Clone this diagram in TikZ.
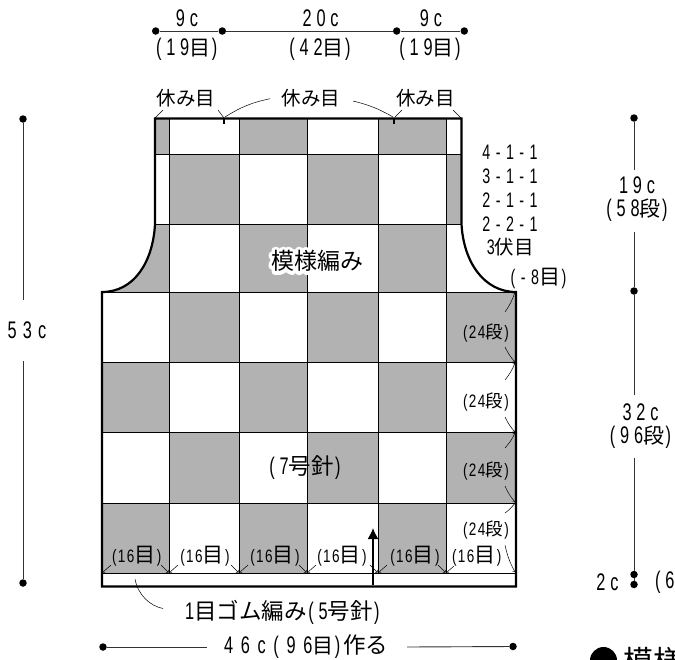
\documentclass[tikz,border=0pt]{standalone}
\usepackage{fontspec}
\usetikzlibrary{arrows.meta}
\newfontfamily\jpfont{Noto Sans CJK JP}
\newfontfamily\numfont[FakeStretch=0.68,LetterSpace=20]{Liberation Sans}
\newfontfamily\widefont[FakeStretch=0.68,LetterSpace=26]{Liberation Sans}
\newfontfamily\widerfont[FakeStretch=0.68,LetterSpace=32]{Liberation Sans}
\newfontfamily\smallfont[FakeStretch=0.75,LetterSpace=8]{Liberation Sans}
\newfontfamily\halofont[FakeBold=30,Color=FFFFFF]{Noto Sans CJK JP}
\newcommand\jp[1]{{\jpfont\fontsize{21}{21}\selectfont #1}\kern1.5pt}
\newcommand\jpb[1]{{\jpfont\fontsize{22.5}{23}\selectfont #1}\kern1.5pt}
\newcommand\jps[1]{{\jpfont\fontsize{17.5}{18}\selectfont #1}\kern1.5pt}
\newcommand\jpm[1]{{\jpfont\fontsize{19.5}{20}\selectfont #1}\kern1.5pt}
\definecolor{knitgray}{gray}{0.7}
\tikzset{
  lab/.style={inner sep=0pt,font=\fontsize{24}{23}\selectfont\numfont,align=center},
  widelab/.style={inner sep=0pt,font=\fontsize{24}{26}\selectfont\widefont},
  declab/.style={inner sep=0pt,font=\fontsize{21}{23}\selectfont\widefont},
  jplab/.style={inner sep=0pt,font=\fontsize{19.5}{21}\selectfont\jpfont},
  small/.style={inner sep=0pt,font=\fontsize{18}{19}\selectfont\smallfont},
  dimdot/.style={circle,fill=black,inner sep=0pt,minimum size=7.5pt},
  dimline/.style={line width=0.9pt,black!80},
  leader/.style={line width=0.5pt},
  tipline/.style={line width=0.5pt,->,>=to},
  cell/.style={fill=knitgray,draw=none}
}
\begin{document}
\begin{tikzpicture}[x=1pt,y=-1pt]
\useasboundingbox (0,0) rectangle (675,659);
\clip (0,0) rectangle (675,659);
% shaded squares
\fill[cell] (155,119) rectangle (169,154);
\fill[cell] (239,119) rectangle (307,154);
\fill[cell] (378,119) rectangle (446,154);
\fill[cell] (169,154) rectangle (239,224);
\fill[cell] (307,154) rectangle (378,224);
\fill[cell] (446,154) rectangle (461.5,224);
\fill[cell] (155,224) .. controls (153,262) and (134,292) .. (102,292) -- (169,292) -- (169,224) -- cycle;
\fill[cell] (239,224) rectangle (307,292);
\fill[cell] (378,224) rectangle (446,292);
\fill[cell] (169,292) rectangle (239,362);
\fill[cell] (307,292) rectangle (378,362);
\fill[cell] (446,292) rectangle (516,362);
\fill[cell] (102,362) rectangle (169,432);
\fill[cell] (239,362) rectangle (307,432);
\fill[cell] (378,362) rectangle (446,432);
\fill[cell] (169,432) rectangle (239,503);
\fill[cell] (307,432) rectangle (378,503);
\fill[cell] (446,432) rectangle (516,503);
\fill[cell] (102,503) rectangle (169,573);
\fill[cell] (239,503) rectangle (307,573);
\fill[cell] (378,503) rectangle (446,573);
% grid
\draw[line width=1pt] (155,154) -- (461.5,154);
\draw[line width=1pt] (155,224) -- (461.5,224);
\foreach \yy in {292,362,432,503,573} \draw[line width=1pt] (102,\yy) -- (516,\yy);
\foreach \xx in {169,239,307,378,446} \draw[line width=1pt] (\xx,119) -- (\xx,573);
% outline
\draw[line width=2.2pt] (155,118.5) -- (461.5,118.5) -- (461.5,224)
  .. controls (463.5,262) and (484,292) .. (516,292) -- (516,586.5) -- (102,586.5) -- (102,292)
  .. controls (134,292) and (153,262) .. (155,224) -- cycle;
\draw[line width=1.8pt] (224,118) -- (224,124);
\draw[line width=1.8pt] (394,118) -- (394,124);
% top
\node[dimdot] (ta) at (155.7,31) {};
\node[dimdot] (tb) at (222.3,31) {};
\node[dimdot] (tc) at (396.7,31) {};
\node[dimdot] (td) at (464.3,31) {};
\draw[dimline] (ta) -- (tb) -- (tc) -- (td);
\node[lab] (wa) at (187,18) {9c};
\node[lab] (wb) at (320.7,18) {20c};
\node[lab] (wc) at (431,18) {9c};
\node[lab] (sa) at (186.7,49) {(19\jp{目})};
\node[lab] (sb) at (320,49) {(42\jp{目})};
\node[lab] (sc) at (430,49) {(19\jp{目})};
% rest
\node[jplab] (ra) at (186,98) {休み目};
\node[jplab] (rb) at (311,98) {休み目};
\node[jplab] (rc) at (425.5,98) {休み目};
\coordinate (rl) at (270,98.7);
\coordinate (rr) at (353,101);
\draw[leader] (155,118) -- (163,110);
\draw[leader] (218,110) -- (224,118);
\draw[leader] (225,117) to[bend left=10] (rl);
\draw[leader] (rr) to[bend left=8] (393,117);
\draw[leader] (395,117) -- (402,110);
\draw[leader] (453,110) -- (461,118);
% left
\node[dimdot] (la) at (23,119) {};
\node[dimdot] (lb) at (23,583) {};
\node[widelab] (lt) at (27,330) {53c};
\draw[dimline] (la) -- (23,300);
\draw[dimline] (23,361) -- (lb);
% right
\node[dimdot] (ua) at (634,118) {};
\node[dimdot] (ub) at (634,291) {};
\node[dimdot] (uc) at (634,574.5) {};
\node[dimdot] (ud) at (634,584.5) {};
\node[lab] (ue) at (637,199.5) {19c\\(58\jp{段})};
\node[lab] (ug) at (640.5,426.5) {32c\\(96\jp{段})};
\draw[dimline] (ua) -- (634,170);
\draw[dimline] (634,232) -- (ub) -- (634,395);
\draw[dimline] (634,458) -- (uc) -- (ud);
\node[lab] (ui) at (607.5,582) {2c};
\node[lab,anchor=west] (uj) at (655,582) {(6};
\node[circle,fill=black,inner sep=0pt,minimum size=27pt] (uk) at (603.5,660.5) {};
\node[jplab,anchor=west,font=\fontsize{30}{32}\selectfont\jpfont] (ul) at (623,661) {模様};
% decrease
\node[declab] (da) at (510,152) {4-1-1};
\node[declab] (db) at (510,176) {3-1-1};
\node[declab] (dc) at (510,200) {2-1-1};
\node[declab] (dd) at (510,224) {2-2-1};
\node[declab] (de) at (511,247) {3\jpm{伏目}};
\node[declab] (df) at (538.5,278) {(-8\jp{目})};
% center
\begin{scope}[line join=round,miter limit=1]
\node[jplab,font=\fontsize{23}{25}\selectfont\jpfont] (ma) at (317,261) {\rlap{\halofont 模様編み}模様編み};
\end{scope}
\node[lab] (mb) at (305,468) {(7\jpb{号針})};
% rows
\node[small] (ga) at (486,333) {(24\jps{段})};
\node[small] (gb) at (486,402) {(24\jps{段})};
\node[small] (gc) at (486,471) {(24\jps{段})};
\node[small] (gd) at (486,530) {(24\jps{段})};
\foreach \ya/\yb/\yc/\yd in {312/292/347/362,380/363/417/432,448/433/486/502,513/503/545/572}{
  \draw[tipline] (505,\ya) to[bend right=8] (515,\yb);
  \draw[tipline] (505,\yc) to[bend right=8] (515,\yd);
}
% stitches
\foreach \xc/\nn in {136.7/a,205/b,275/c,342/d,415/e,476.7/f}
  \node[small] (h\nn) at (\xc,556) {(16\jp{目})};
\foreach \xa/\xb in {102/169,169/239,239/307,307/378,378/446}{
  \draw[tipline] (\xa+9,565) -- (\xa+0.5,572.5);
  \draw[tipline] (\xb-8,565) -- (\xb-0.5,572.5);
}
\draw[tipline] (454,566) -- (446.5,572.5);
% arrow
\coordinate (aa) at (373,585);
\coordinate (ab) at (373,528);
\draw[line width=1.6pt,-{Latex[length=11pt,width=11pt]}] (aa) -- (ab);
% bottom
\node[lab,anchor=west] (ba) at (185,612) {1\jpb{目ゴム編み}(5\jpb{号針})};
\draw[leader] (135,579) .. controls (138,595) and (150,606) .. (163,608.5);
\node[dimdot] (ca) at (103,647) {};
\node[dimdot] (cb) at (513,646.5) {};
\node[widelab,font=\fontsize{24}{26}\selectfont\widerfont] (cc) at (307,647) {46c(96\jp{目})\kern3pt\jpb{作る}};
\draw[dimline] (ca) -- (207,647);
\draw[dimline] (407,647) -- (cb);
\end{tikzpicture}
\end{document}
